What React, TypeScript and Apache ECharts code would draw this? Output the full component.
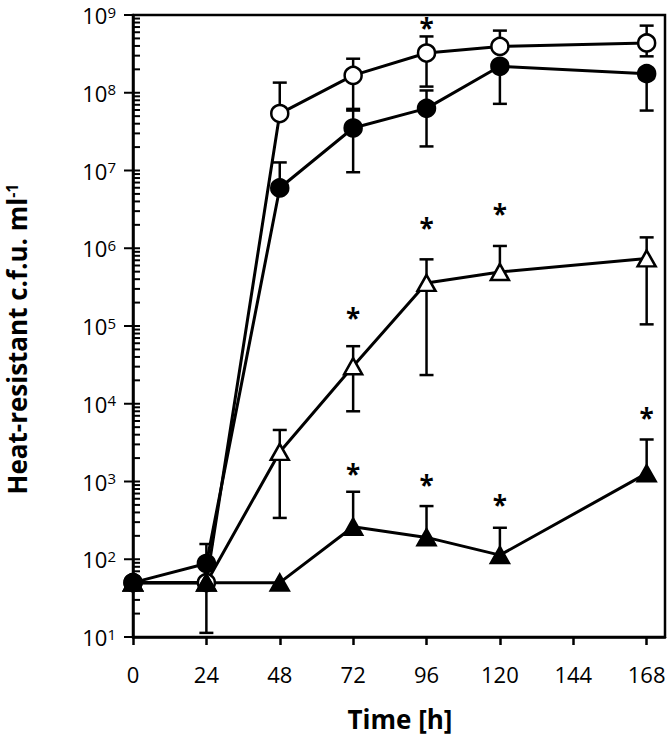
import React, { useEffect, useRef } from 'react';
import * as echarts from 'echarts';

const hours = [0, 24, 48, 72, 96, 120, 168];

const openCircle = [50, 50, 5.4e7, 1.67e8, 3.24e8, 3.94e8, 4.37e8];
const openCircleUpper = [null, null, 1.35e8, 2.74e8, 5.3e8, 6.3e8, 7.3e8];
const openCircleLower = [null, null, null, 5.9e7, 1.2e8, null, 2.94e8];

const filledCircle = [50, 88, 5.96e6, 3.52e7, 6.3e7, 2.19e8, 1.76e8];
const filledCircleUpper = [null, 157, 1.27e7, 6.2e7, 1.07e8, null, null];
const filledCircleLower = [null, null, null, 9.5e6, 2.04e7, 7.2e7, 5.9e7];

const openTriangle = [50, 50, 2.4e3, 3.04e4, 3.58e5, 4.95e5, 7.4e5];
const openTriangleUpper = [null, null, 4.6e3, 5.5e4, 7.2e5, 1.07e6, 1.38e6];
const openTriangleLower = [null, null, 340, 8.0e3, 2.34e4, null, 1.05e5];

const filledTriangle = [50, 50, 50, 262, 191, 113, 1270];
const filledTriangleUpper = [null, null, null, 738, 483, 254, 3470];
const filledTriangleLower = [null, 11.3, null, null, null, null, null];

const sigHours = [96, 72, 96, 120, 72, 96, 120, 168];
const sigValues = [7.9e8, 1.46e5, 2.09e6, 3.2e6, 1.45e3, 1.05e3, 582, 7.6e3];

const xTickValues = [0, 24, 48, 72, 96, 120, 144, 168];
const yDecadeExponents = [1, 2, 3, 4, 5, 6, 7, 8, 9];
const yMinorMultipliers = [2, 3, 4, 5, 6, 7, 8, 9];

const FONT = '"Open Sans", "Noto Sans", sans-serif';

function errData(vals: number[], up: (number | null)[], lo: (number | null)[]) {
  return hours.map((h, i) => [h, vals[i], lo[i] ?? vals[i], up[i] ?? vals[i]]);
}

export default function App() {
  const ref = useRef<HTMLDivElement>(null);
  useEffect(() => {
    const chart = echarts.init(ref.current!, null, { renderer: 'svg' });

    const yMajor = yDecadeExponents.map((e) => Math.pow(10, e));
    const yTicks: { v: number; major: boolean }[] = [];
    yDecadeExponents.forEach((e) => {
      yTicks.push({ v: Math.pow(10, e), major: true });
      if (e < 9) yMinorMultipliers.forEach((k) => yTicks.push({ v: k * Math.pow(10, e), major: false }));
    });

    const errRender = (params: any, api: any) => {
      const x = api.value(0), y = api.value(1), lo = api.value(2), hi = api.value(3);
      const p = api.coord([x, y]);
      const style = { stroke: '#000', lineWidth: 2.5 };
      const cap = 7;
      const children: any[] = [];
      if (hi > y) {
        const ph = api.coord([x, hi]);
        children.push({ type: 'line', shape: { x1: p[0], y1: p[1], x2: ph[0], y2: ph[1] }, style });
        children.push({ type: 'line', shape: { x1: ph[0] - cap, y1: ph[1], x2: ph[0] + cap, y2: ph[1] }, style });
      }
      if (lo < y) {
        const pl = api.coord([x, lo]);
        children.push({ type: 'line', shape: { x1: p[0], y1: p[1], x2: pl[0], y2: pl[1] }, style });
        children.push({ type: 'line', shape: { x1: pl[0] - cap, y1: pl[1], x2: pl[0] + cap, y2: pl[1] }, style });
      }
      return { type: 'group', children };
    };

    const errSeries = (vals: number[], up: any[], lo: any[]) => ({
      type: 'custom',
      renderItem: errRender,
      data: errData(vals, up, lo),
      encode: { x: 0, y: 1 },
      clip: false,
      silent: true,
      z: 2,
    });

    const lineSeries = (vals: number[], symbol: string, size: any, fill: string) => ({
      type: 'line',
      data: hours.map((h, i) => [h, vals[i]]),
      symbol,
      symbolSize: size,
      showAllSymbol: true,
      lineStyle: { color: '#000', width: 3 },
      itemStyle: { color: fill, borderColor: '#000', borderWidth: 2.5 },
      z: 3,
      silent: true,
    });

    const option: any = {
      animation: false,
      grid: { left: 133, top: 15, right: 4, bottom: 100, show: true, borderColor: '#000', borderWidth: 2.5 },
      xAxis: {
        type: 'value',
        min: 0,
        max: 174,
        interval: 24,
        axisLine: { lineStyle: { color: '#000', width: 2.5 } },
        axisTick: { customValues: xTickValues, length: 8, lineStyle: { color: '#000', width: 2.5 } },
        axisLabel: {
          customValues: xTickValues,
          margin: 26,
          fontSize: 22,
          color: '#000',
          fontFamily: FONT,
          formatter: (v: number) => (v % 24 === 0 ? String(v) : ''),
        },
        splitLine: { show: false },
      },
      yAxis: {
        type: 'log',
        logBase: 10,
        min: 10,
        max: 1e9,
        axisLine: { lineStyle: { color: '#000', width: 2.5 } },
        axisTick: { show: false },
        axisLabel: {
          customValues: yMajor,
          margin: 17,
          color: '#000',
          formatter: (v: number) => `{b|10}{s|${Math.round(Math.log10(v))}}`,
          rich: {
            b: { fontSize: 22, fontFamily: FONT, color: '#000' },
            s: { fontSize: 15, fontFamily: FONT, color: '#000', verticalAlign: 'top' },
          },
        },
        splitLine: { show: false },
        minorTick: { show: false },
      },
      graphic: [
        {
          type: 'text',
          x: 17,
          y: 339,
          rotation: Math.PI / 2,
          style: {
            text: '{a|Heat-resistant c.f.u. ml}{s|-1}',
            align: 'center',
            verticalAlign: 'middle',
            rich: {
              a: { fontSize: 26, fontWeight: 'bold', fontFamily: FONT, fill: '#000' },
              s: { fontSize: 16, fontWeight: 'bold', fontFamily: FONT, fill: '#000', verticalAlign: 'top' },
            },
          },
        },
        {
          type: 'text',
          x: 400,
          y: 719,
          style: {
            text: 'Time [h]',
            align: 'center',
            verticalAlign: 'middle',
            font: `bold 26px ${FONT}`,
            fill: '#000',
          },
        },
      ],
      series: [
        errSeries(openCircle, openCircleUpper, openCircleLower),
        errSeries(filledCircle, filledCircleUpper, filledCircleLower),
        errSeries(openTriangle, openTriangleUpper, openTriangleLower),
        errSeries(filledTriangle, filledTriangleUpper, filledTriangleLower),
        lineSeries(openCircle, 'circle', 17, '#fff'),
        lineSeries(openTriangle, 'triangle', [18, 16], '#fff'),
        lineSeries(filledCircle, 'circle', 17, '#000'),
        lineSeries(filledTriangle, 'triangle', [18, 16], '#000'),
        {
          type: 'custom',
          data: sigHours.map((h, i) => [h, sigValues[i]]),
          encode: { x: 0, y: 1 },
          clip: false,
          silent: true,
          z: 6,
          renderItem: (params: any, api: any) => {
            const p = api.coord([api.value(0), api.value(1)]);
            const children: any[] = [
              {
                type: 'text',
                x: p[0],
                y: p[1] + 5,
                style: {
                  text: '*',
                  align: 'center',
                  verticalAlign: 'middle',
                  font: `bold 26px ${FONT}`,
                  fill: '#000',
                },
              },
            ];
            if (params.dataIndex === 0) {
              yTicks.forEach((t) => {
                const q = api.coord([0, t.v]);
                children.push({
                  type: 'line',
                  shape: { x1: q[0] - (t.major ? 9 : 0), y1: q[1], x2: q[0] + 7, y2: q[1] },
                  style: { stroke: '#000', lineWidth: 2 },
                });
              });
            }
            return { type: 'group', children };
          },
        },
      ],
    };

    chart.setOption(option);
    return () => chart.dispose();
  }, []);
  return <div ref={ref} style={{ position: 'absolute', left: 0, top: 0, width: 669, height: 737 }} />;
}
